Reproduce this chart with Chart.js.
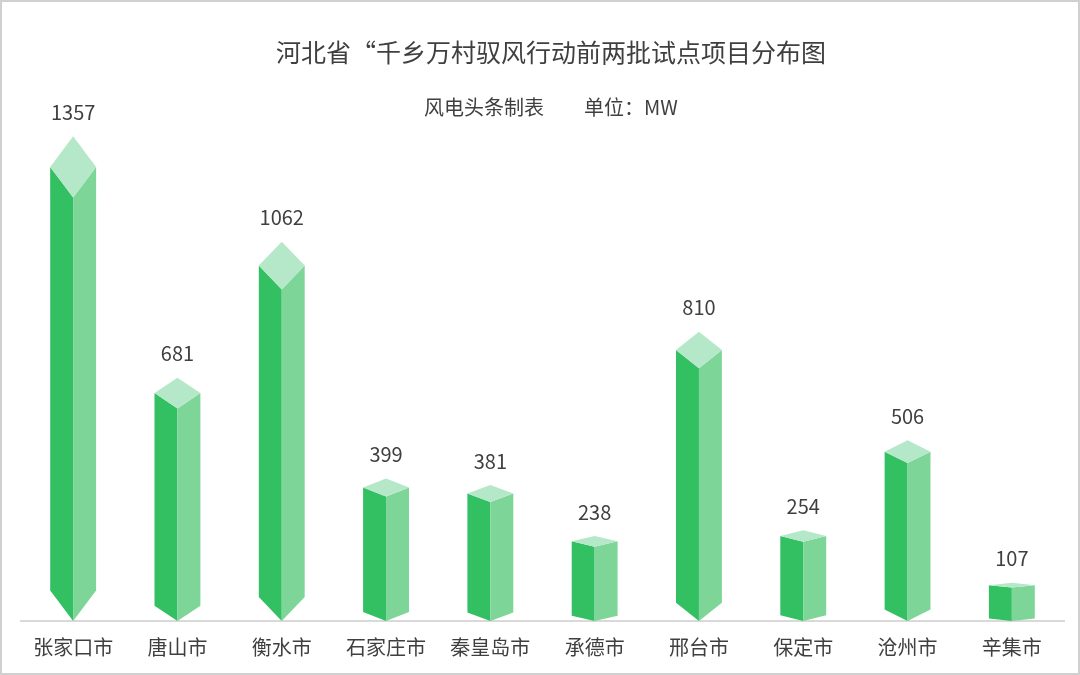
<!DOCTYPE html>
<html>
<head>
<meta charset="utf-8">
<script src="https://cdn.jsdelivr.net/npm/chart.js@4"></script>
<style>
  body { margin: 0; background: #fff; }
  #wrap { width: 1080px; height: 675px; }
</style>
</head>
<body>
<div id="wrap"><canvas id="windChart"></canvas></div>
<script>
const cities = ['张家口市', '唐山市', '衡水市', '石家庄市', '秦皇岛市', '承德市', '邢台市', '保定市', '沧州市', '辛集市'];
const capacity = [1357, 681, 1062, 399, 381, 238, 810, 254, 506, 107];

const titleText = '河北省“千乡万村驭风行动前两批试点项目分布图';
const subText = '风电头条制表\u3000\u3000单位：MW';

const FONT = '"Noto Sans CJK SC", "Noto Sans", sans-serif';
const darkGreen = '#33c063';
const lightGreen = '#7dd698';
const topGreen = '#b5e8c8';

// draws each bar as a prism with a diamond cap + labels, title, frame
const prismPlugin = {
  id: 'prism',
  beforeDraw(chart) {
    const ctx = chart.ctx;
    ctx.save();
    ctx.fillStyle = '#fff';
    ctx.fillRect(0, 0, chart.width, chart.height);
    ctx.strokeStyle = '#d0d0d0';
    ctx.lineWidth = 2;
    ctx.strokeRect(1, 1, chart.width - 2, chart.height - 2);
    ctx.fillStyle = '#3f3f3f';
    ctx.textAlign = 'center';
    ctx.textBaseline = 'middle';
    ctx.font = '25px ' + FONT;
    ctx.fillText(titleText, 551, 52);
    ctx.font = '20px ' + FONT;
    ctx.fillText(subText, 551, 107);
    ctx.restore();
  },
  afterDatasetsDraw(chart) {
    const ctx = chart.ctx;
    const meta = chart.getDatasetMeta(0);
    ctx.save();
    meta.data.forEach((bar, i) => {
      const x = bar.x, y = bar.y, base = bar.base;
      const hw = bar.width / 2;
      const d = (base - y) * 0.063;
      // left face
      ctx.fillStyle = darkGreen;
      ctx.beginPath();
      ctx.moveTo(x - hw, y + d);
      ctx.lineTo(x, y + 2 * d);
      ctx.lineTo(x, base);
      ctx.lineTo(x - hw, base - d);
      ctx.closePath();
      ctx.fill();
      // right face
      ctx.fillStyle = lightGreen;
      ctx.beginPath();
      ctx.moveTo(x, y + 2 * d);
      ctx.lineTo(x + hw, y + d);
      ctx.lineTo(x + hw, base - d);
      ctx.lineTo(x, base);
      ctx.closePath();
      ctx.fill();
      // top cap
      ctx.fillStyle = topGreen;
      ctx.beginPath();
      ctx.moveTo(x, y);
      ctx.lineTo(x + hw, y + d);
      ctx.lineTo(x, y + 2 * d);
      ctx.lineTo(x - hw, y + d);
      ctx.closePath();
      ctx.fill();
      // value
      ctx.fillStyle = '#3f3f3f';
      ctx.font = '20px ' + FONT;
      ctx.textAlign = 'center';
      ctx.textBaseline = 'middle';
      ctx.fillText(capacity[i], x, y - 24);
    });
    ctx.restore();
  }
};

const config = {
  type: 'bar',
  data: {
    labels: cities,
    datasets: [{
      data: capacity,
      backgroundColor: 'rgba(0,0,0,0)',
      barPercentage: 0.44,
      categoryPercentage: 1
    }]
  },
  options: {
    responsive: true,
    maintainAspectRatio: false,
    animation: false,
    layout: { padding: { top: 121, left: 21, right: 16, bottom: 0 } },
    plugins: {
      legend: { display: false },
      tooltip: { enabled: false }
    },
    scales: {
      x: {
        grid: { display: false, drawTicks: false },
        border: { display: true, color: '#d9d9d9', width: 2 },
        ticks: { color: '#3f3f3f', font: { family: FONT, size: 20 }, padding: 14 },
        afterFit(scale) { scale.height = 54; }
      },
      y: {
        display: false,
        min: 0,
        max: 1400
      }
    }
  },
  plugins: [prismPlugin]
};

const myChart = new Chart(document.getElementById('windChart'), config);
</script>
</body>
</html>
